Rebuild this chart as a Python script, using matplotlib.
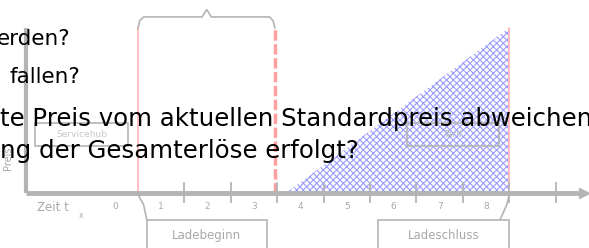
import numpy as np
import matplotlib
matplotlib.use('Agg')
import matplotlib.pyplot as plt
from matplotlib.patches import Rectangle, Polygon

# Zeitachse und Markierungen
zeit_ticks = [1, 2, 3, 4, 5, 6, 7, 8, 9]
zeit_labels = ['0', '1', '2', '3', '4', '5', '6', '7', '8']
label_pos = [-0.5, 0.5, 1.5, 2.5, 3.5, 4.5, 5.5, 6.5, 7.5]
lade_beginn = 0.0
grenze = 2.95
lade_schluss = 8.0
rampe_x = [3.2, 8.0, 8.0]
rampe_y = [0.0, 0.0, 1.0]

# Fragetexte (ueberlagert)
fragen = ['erden?', 'fallen?',
          'te Preis vom aktuellen Standardpreis abweichen',
          'ng der Gesamterlöse erfolgt?']

W, H = 589, 248
grau = '#b4b4b4'
rot = '#ffb3b3'
plt.rcParams['hatch.linewidth'] = 0.8

fig = plt.figure(figsize=(W / 100, H / 100), dpi=100)
ax = fig.add_axes([0, 0, 1, 1])
px = 46.4   # pixel pro zeiteinheit
py = 165.0  # pixel pro preiseinheit
ax.set_xlim(-138 / px, (W - 138) / px)
ax.set_ylim(-(H - 193) / py, 193 / py)
ax.axis('off')

# Schraffierte Rampe
ax.add_patch(Polygon(np.column_stack([rampe_x, rampe_y]), closed=True,
                     facecolor='white', edgecolor='#9c9cff', hatch='xxxxx',
                     linewidth=0, zorder=1))

# Rote Linien
ax.plot([lade_beginn, lade_beginn], [0, 1], color=rot, lw=1.2, zorder=2)
ax.plot([grenze, grenze], [0, 1], color='#ffa0a0', lw=2.5, ls=(0, (3, 1)), zorder=2)
ax.plot([lade_schluss, lade_schluss], [0, 1], color=rot, lw=1.2, zorder=2)

# Achsen
y0 = -112 / px
xend = (W - 5 - 138) / px
ax.plot([y0, y0], [0, 1], color=grau, lw=3, solid_capstyle='butt', zorder=3)
ax.plot([y0, xend], [0, 0], color=grau, lw=3.5, solid_capstyle='butt', zorder=3)
ax.plot([xend], [0], marker='>', ms=7, color=grau, mec=grau, zorder=3, clip_on=False)
for t in zeit_ticks:
    ax.plot([t, t], [0.06, -0.055], color=grau, lw=1.3, zorder=3)
for p, l in zip(label_pos, zeit_labels):
    ax.text(p, -0.08, l, ha='center', va='center', fontsize=6.5, color='#a8a8a8')
ax.text(-2.18, -0.09, 'Zeit t', ha='left', va='center', fontsize=8.5, color='#a8a8a8')
ax.text(-1.27, -0.135, 'x', ha='left', va='center', fontsize=5.5, color='#a8a8a8')
ax.text(-2.8, 0.21, 'Preis', rotation=90, ha='center', va='center',
        fontsize=7, color='#a8a8a8')

# Geschweifte Klammer ueber dem Ladebeginn
bx = [lade_beginn, lade_beginn + 0.04, lade_beginn + 0.12, 1.38, 1.48, 1.58,
      grenze - 0.12, grenze - 0.04, grenze]
by = [1.0, 1.045, 1.067, 1.067, 1.112, 1.067, 1.067, 1.045, 1.0]
ax.plot(bx, by, color=grau, lw=1.2, zorder=3)

# Kaesten
ax.add_patch(Rectangle((-2.22, 0.285), 2.0, 0.14, fill=False, ec=grau, lw=1.2, zorder=3))
ax.text(-1.22, 0.355, 'Servicehub', ha='center', va='center', fontsize=6.5,
        color='#c8c8c8', zorder=4)
ax.add_patch(Rectangle((5.8, 0.285), 1.98, 0.14, fill=False, ec=grau, lw=1.2, zorder=3))
ax.text(6.79, 0.355, 'Tarif', ha='center', va='center', fontsize=6.5,
        color='#b8b8b8', zorder=4)

ax.plot([lade_beginn, 0.12, 0.19], [-0.01, -0.07, -0.164], color=grau, lw=1.2)
ax.add_patch(Rectangle((0.19, -0.5), 2.59, 0.336, fill=False, ec=grau, lw=1.2))
ax.text(1.48, -0.26, 'Ladebeginn', ha='center', va='center', fontsize=8.5, color='#a8a8a8')
ax.plot([lade_schluss, 7.95, 7.8], [-0.01, -0.07, -0.164], color=grau, lw=1.2)
ax.add_patch(Rectangle((5.17, -0.5), 2.83, 0.336, fill=False, ec=grau, lw=1.2))
ax.text(6.58, -0.26, 'Ladeschluss', ha='center', va='center', fontsize=8.5, color='#a8a8a8')

# Ueberlagerter Text
fig.text(70 / W, 1 - 45 / H, fragen[0], ha='right', va='baseline', fontsize=15.5, color='black')
fig.text(80 / W, 1 - 83 / H, fragen[1], ha='right', va='baseline', fontsize=15.5, color='black')
fig.text(0 / W, 1 - 126 / H, fragen[2], ha='left', va='baseline', fontsize=17.6, color='black')
fig.text(0 / W, 1 - 158 / H, fragen[3], ha='left', va='baseline', fontsize=17.6, color='black')

fig.savefig('out.png', dpi=100)
